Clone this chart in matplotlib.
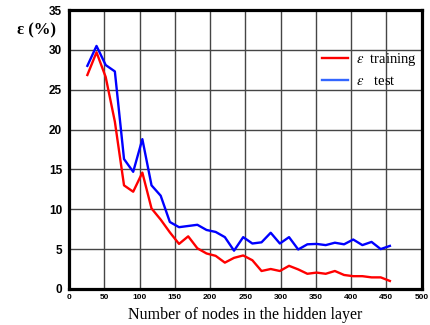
import numpy as np
import matplotlib
matplotlib.use('Agg')
import matplotlib.pyplot as plt

# nodes in the hidden layer
nodes = [26, 39, 52, 65, 78, 91, 104, 117, 130, 143, 156, 169, 182, 195, 208, 221, 234,
         247, 260, 273, 286, 299, 312, 325, 338, 351, 364, 377, 390, 403, 416, 429, 442, 455]
# training error (%)
err_train = [26.85, 29.7, 26.6, 21.0, 13.0, 12.2, 14.6, 10.1, 8.7, 7.1, 5.65, 6.6, 5.1, 4.45,
             4.15, 3.3, 3.9, 4.2, 3.6, 2.25, 2.5, 2.25, 2.9, 2.45, 1.9, 2.05, 1.9, 2.25, 1.75,
             1.6, 1.6, 1.45, 1.45, 1.0]
# test error (%)
err_test = [28.0, 30.5, 28.1, 27.3, 16.3, 14.7, 18.8, 13.0, 11.7, 8.4, 7.75, 7.9, 8.05, 7.4,
            7.15, 6.5, 4.8, 6.5, 5.7, 5.85, 7.05, 5.7, 6.5, 4.95, 5.6, 5.65, 5.5, 5.8, 5.6,
            6.2, 5.5, 5.9, 5.0, 5.4]

xticks = [0, 50, 100, 150, 200, 250, 300, 350, 400, 450, 500]
yticks = [0, 5, 10, 15, 20, 25, 30, 35]

plt.rcParams['mathtext.fontset'] = 'stix'

fig = plt.figure(figsize=(4.3, 3.25), dpi=100)
ax = fig.add_axes([0.1605, 0.111, 0.82, 0.858])

ax.plot(nodes, err_train, color='#ff0000', lw=1.7, label=r'$\varepsilon$  training')
ax.plot(nodes, err_test, color='#0000ff', lw=1.7, label=r'$\varepsilon$   test')

ax.set_xlim(0, 500)
ax.set_ylim(0, 35)
ax.set_xticks(xticks)
ax.set_yticks(yticks)
ax.grid(True, color='#454545', lw=1.0)
ax.set_axisbelow(True)
for s in ax.spines.values():
    s.set_linewidth(2.3)
    s.set_color('black')

ax.tick_params(length=0)
ax.tick_params(axis='x', pad=4, labelsize=6)
ax.tick_params(axis='y', pad=5, labelsize=8.5)
for lab in ax.get_xticklabels() + ax.get_yticklabels():
    lab.set_fontweight('bold')
    lab.set_family('Liberation Sans')

ax.set_xlabel('Number of nodes in the hidden layer', family='Liberation Serif',
              fontsize=11.5, labelpad=4)
fig.text(0.04, 0.905, 'ε (%)', family='Liberation Serif', fontweight='bold', fontsize=12,
         ha='left', va='center')

leg = ax.legend(loc='upper left', bbox_to_anchor=(0.70, 0.875), frameon=False,
                prop={'family': 'Liberation Serif', 'size': 10.5},
                handlelength=1.8, handletextpad=0.55, labelspacing=0.5, borderaxespad=0)
leg.get_lines()[1].set_color('#3366ff')

fig.savefig('out.png', dpi=100)
